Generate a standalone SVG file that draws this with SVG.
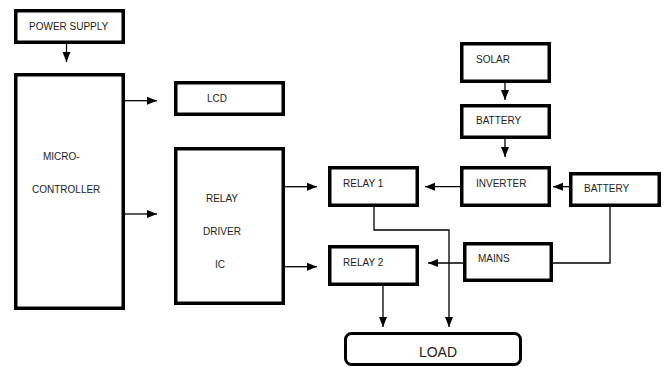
<svg xmlns="http://www.w3.org/2000/svg" width="665" height="367" viewBox="0 0 665 367">
<defs>
<style>
.box{fill:#fff;stroke:#000;stroke-width:3.5}
.t{font-family:"Liberation Sans",Arial,sans-serif;font-size:10px;fill:#222}
.c{fill:none;stroke:#000;stroke-width:1.3}
</style>
<marker id="ah" markerUnits="userSpaceOnUse" markerWidth="10" markerHeight="10" viewBox="0 0 10 10" refX="10" refY="5" orient="auto">
<path d="M0,1 L10,5 L0,9 Z" fill="#000"/>
</marker>
</defs>
<rect width="665" height="367" fill="#fff"/>
<g id="power"><rect class="box" x="15.75" y="10.75" width="107.5" height="31.5"/><text class="t" x="29" y="30">POWER SUPPLY</text></g>
<g id="micro"><rect class="box" x="15.75" y="74.75" width="107.5" height="233.5"/><text class="t" x="43" y="160">MICRO-</text><text class="t" x="32" y="193">CONTROLLER</text></g>
<g id="lcd"><rect class="box" x="175.75" y="82.75" width="107.5" height="31.5"/><text class="t" x="207" y="102">LCD</text></g>
<g id="driver"><rect class="box" x="175.75" y="148.75" width="107.5" height="154.5"/><text class="t" x="222" y="202" text-anchor="middle">RELAY</text><text class="t" x="222" y="235" text-anchor="middle">DRIVER</text><text class="t" x="220" y="268" text-anchor="middle">IC</text></g>
<g id="solar"><rect class="box" x="461.75" y="43.75" width="87.5" height="37.5"/><text class="t" x="476" y="63">SOLAR</text></g>
<g id="battery1"><rect class="box" x="461.75" y="105.75" width="87.5" height="31.5"/><text class="t" x="476" y="124">BATTERY</text></g>
<g id="inverter"><rect class="box" x="461.75" y="167.75" width="87.5" height="37.5"/><text class="t" x="476" y="187">INVERTER</text></g>
<g id="relay1"><rect class="box" x="329.75" y="167.75" width="87.5" height="37.5"/><text class="t" x="343" y="187">RELAY 1</text></g>
<g id="battery2"><rect class="box" x="570.75" y="173.75" width="88.5" height="31.5"/><text class="t" x="584" y="192">BATTERY</text></g>
<g id="relay2"><rect class="box" x="329.75" y="246.75" width="87.5" height="37.5"/><text class="t" x="343" y="266">RELAY 2</text></g>
<g id="mains"><rect class="box" x="464.75" y="243.75" width="86.5" height="36.5"/><text class="t" x="478" y="262">MAINS</text></g>
<g id="load"><rect x="345.5" y="333.5" width="175" height="31" rx="6" fill="#fff" stroke="#000" stroke-width="3"/><text x="438" y="357" text-anchor="middle" font-family="'Liberation Sans',Arial,sans-serif" font-size="14" fill="#222">LOAD</text></g>
<g id="connectors">
<path class="c" d="M66.5,44 V62" marker-end="url(#ah)"/>
<path class="c" d="M125,100.7 H157" marker-end="url(#ah)"/>
<path class="c" d="M125,214 H157" marker-end="url(#ah)"/>
<path class="c" d="M285,186.7 H317" marker-end="url(#ah)"/>
<path class="c" d="M285,266.7 H317" marker-end="url(#ah)"/>
<path class="c" d="M505,83 V100" marker-end="url(#ah)"/>
<path class="c" d="M505,139 V157" marker-end="url(#ah)"/>
<path class="c" d="M460,186.7 H425" marker-end="url(#ah)"/>
<path class="c" d="M569,186.7 H553" marker-end="url(#ah)"/>
<path class="c" d="M374,207 V230 H449 V327" marker-end="url(#ah)"/>
<path class="c" d="M383,286 V327" marker-end="url(#ah)"/>
<path class="c" d="M463,263 H428" marker-end="url(#ah)"/>
<path class="c" d="M610,207 V263 H553"/>
</g>
</svg>
